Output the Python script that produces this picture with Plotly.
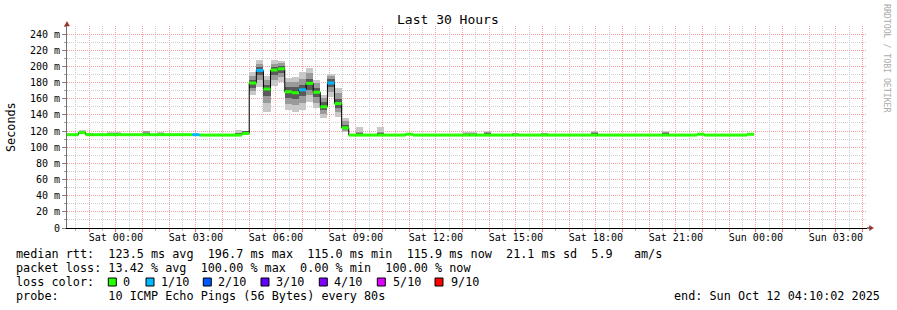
import numpy as np
import pandas as pd
import plotly.graph_objects as go

# ---------------- data ----------------
title_text = "Last 30 Hours"
y_title = "Seconds"
x_start = "2025-10-10 22:10:02"
x_end = "2025-10-12 04:10:02"
first_step = "2025-10-10 22:04:00"
step_minutes = 16

# median RTT per 16-minute step (ms)
median_ms = [
    115.5, 115.5, 118, 115.5, 115.5, 115.5, 115.5, 115.5, 115.5, 115.5,
    115.5, 115.5, 115.5, 115.5, 115.5, 115.5, 115.5, 115.5, 115.5, 115,
    115, 115, 115, 115, 115, 117, 179.4, 195, 172, 195.5,
    197, 168.6, 167.4, 171, 179, 168, 150, 179.4, 154, 124,
    115, 115, 115, 115, 115, 115, 115, 115, 116, 115,
    115, 115, 115, 115, 115, 115, 115, 115, 115, 115,
    115, 115, 115, 115, 115, 115, 115, 115, 115, 115,
    115, 115, 115, 115, 115, 115, 115, 115, 115, 115,
    115, 115, 115, 115, 115, 115, 115, 115, 115, 116,
    115, 115, 115, 115, 115, 115, 116,
]
# steps with packet loss (in tenths)
loss_idx = [18, 27, 33, 37]
loss_tenths = [1, 1, 1, 1]

# smoke (ping spread) for steps where it is visible
smoke_idx = [2, 3, 6, 7, 11, 13, 24, 25, 26, 27, 28, 29, 30, 31, 32, 33, 34, 35, 36, 37, 38, 39,
             41, 44, 56, 57, 59, 63, 67, 74, 84]
smoke_hi1 = [121, 118, 118.5, 118.5, 120, 118.5, 121, 120.5, 193, 208, 188, 208, 207, 186, 187, 193, 198, 183, 165, 191, 173, 136.5,
             124.5, 124.5, 118.5, 118.5, 119.5, 118, 118, 119.5, 119.5]
smoke_hi2 = [120, 117, 117, 117, 119.5, 117, 118, 120, 188, 203, 183, 203, 204, 181, 181, 185, 192, 179, 161, 188, 167, 132,
             119, 119, 117, 117, 118.5, 117, 117, 118.5, 118.5]
smoke_hi3 = [119, 116.5, 116.5, 116.5, 118, 116.5, 117, 119.5, 183, 199, 177, 199, 200, 175, 174, 177, 185, 173, 156, 184, 160, 128,
             117, 117, 116.5, 116.5, 117, 116.5, 116.5, 117, 117]
smoke_lo3 = [117.5, 115, 115, 115, 115, 115, 114.5, 116.5, 173, 189, 163, 189, 192, 161, 160, 163, 171, 162, 146, 174, 148, 122,
             114.5, 114.5, 114.5, 114.5, 114.5, 114.5, 114.5, 114.5, 114.5]
smoke_lo2 = [117, 114.5, 114.5, 114.5, 114.5, 114.5, 114, 116, 169, 183, 155, 183, 187, 154, 152, 155, 164, 155, 141, 168, 143, 120.5,
             114, 114, 114, 114, 114, 114, 114, 114, 114]
smoke_lo1 = [116.5, 114, 114, 114, 114, 114, 113.5, 115.5, 165, 175, 143, 176, 181, 146, 144, 146, 156, 148, 136, 162, 138, 119,
             113.5, 113.5, 113.5, 113.5, 113.5, 113.5, 113.5, 113.5, 113.5]

loss_labels = ["0", "1/10", "2/10", "3/10", "4/10", "5/10", "9/10"]
loss_colors = ["#26ff00", "#00b8ff", "#0059ff", "#5e00ff", "#7e00ff", "#dd00ff", "#ff0000"]
loss_class_tenths = [0, 1, 2, 3, 4, 5, 9]

y_tick_vals = [0, 20, 40, 60, 80, 100, 120, 140, 160, 180, 200, 220, 240]
y_minor_vals = [10, 30, 50, 70, 90, 110, 130, 150, 170, 190, 210, 230, 250]

legend_rtt = "median rtt:  123.5 ms avg  196.7 ms max  115.0 ms min  115.9 ms now  21.1 ms sd  5.9   am/s"
legend_loss = "packet loss: 13.42 % avg  100.00 % max  0.00 % min  100.00 % now"
legend_color_label = "loss color:"
legend_probe = "probe:       10 ICMP Echo Pings (56 Bytes) every 80s"
legend_end = "end: Sun Oct 12 04:10:02 2025"
watermark = "RRDTOOL / TOBI OETIKER"

# ---------------- geometry helpers ----------------
W, H = 897, 310
ML, MR, MT, MB = 67, 30, 26, 82
PW, PH = W - ML - MR, H - MT - MB


def px(x):
    return (x - ML) / PW


def py(y):
    return (H - MB - y) / PH


def nb(s):
    return s.replace(" ", "\u00a0")


FONT = "DejaVu Sans Mono"

n = len(median_ms)
starts = pd.date_range(first_step, periods=n, freq=f"{step_minutes}min")
step = pd.Timedelta(minutes=step_minutes)
ends = starts + step
loss = [0] * n
for i, l in zip(loss_idx, loss_tenths):
    loss[i] = l

fig = go.Figure()

# smoke bands
w_ms = step_minutes * 60 * 1000
centers = [(starts[i] + step / 2).to_pydatetime() for i in smoke_idx]
bands = [
    (smoke_lo1, smoke_hi1, "#c8c8c8"),
    (smoke_lo2, smoke_hi2, "#9a9a9a"),
    (smoke_lo3, smoke_hi3, "#5a5a5a"),
]
for lo, hi, col in bands:
    fig.add_trace(go.Bar(
        x=centers, y=[h - l for h, l in zip(hi, lo)], base=lo,
        width=[w_ms] * len(centers), marker=dict(color=col, line=dict(width=0)),
        hoverinfo="skip", showlegend=False))

# thin black median step line
fig.add_trace(go.Scatter(
    x=[t.to_pydatetime() for t in starts] + [ends[-1].to_pydatetime()],
    y=median_ms + [median_ms[-1]], mode="lines", line_shape="hv",
    line=dict(color="#000000", width=1), hoverinfo="skip", showlegend=False))

# loss coloured median boxes
for cls, col in zip(loss_class_tenths, loss_colors):
    xs, ys = [], []
    for i in range(n):
        if loss[i] == cls:
            xs += [starts[i].to_pydatetime(), ends[i].to_pydatetime(), None]
            ys += [median_ms[i], median_ms[i], None]
    if xs:
        fig.add_trace(go.Scatter(x=xs, y=ys, mode="lines", connectgaps=False,
                                 line=dict(color=col, width=3), hoverinfo="skip", showlegend=False))

# ticks
hour_ticks = pd.date_range("2025-10-10 23:00", "2025-10-12 04:00", freq="1h")
half_ticks = pd.date_range("2025-10-10 22:30", "2025-10-12 03:30", freq="1h")
hour_text = [t.strftime("%a %H:%M") if t.hour % 3 == 0 else "" for t in hour_ticks]
y_tick_text = [f"{v} m" if v else "0" for v in y_tick_vals]

RED_GRID = "#f7a0a0"
GRAY_GRID = "#cfcfcf"

fig.update_layout(
    width=W, height=H, autosize=False,
    margin=dict(l=ML, r=MR, t=MT, b=MB, pad=0),
    paper_bgcolor="white", plot_bgcolor="white",
    showlegend=False, barmode="overlay", bargap=0,
    font=dict(family=FONT, color="black"),
    xaxis=dict(
        type="date", range=[x_start, x_end],
        tickmode="array", tickvals=[t.to_pydatetime() for t in hour_ticks], ticktext=hour_text,
        showgrid=True, gridcolor=RED_GRID, griddash="1px,1px", gridwidth=1,
        ticks="outside", ticklen=3, tickcolor="#ff6060", tickwidth=1,
        ticklabelstandoff=-3,
        minor=dict(tickmode="array", tickvals=[t.to_pydatetime() for t in half_ticks], showgrid=True,
                   gridcolor=GRAY_GRID, griddash="1px,1px", ticks="outside", ticklen=2,
                   tickcolor="#b0b0b0"),
        showline=True, linecolor="#000000", linewidth=1, zeroline=False,
        tickfont=dict(family=FONT, size=10, color="black"), fixedrange=True,
    ),
    yaxis=dict(
        range=[0, 250], tickmode="array", tickvals=y_tick_vals, ticktext=y_tick_text,
        showgrid=True, gridcolor=RED_GRID, griddash="1px,1px", gridwidth=1,
        ticks="outside", ticklen=4, tickcolor="#808080",
        minor=dict(tickmode="array", tickvals=y_minor_vals, showgrid=True, gridcolor=GRAY_GRID,
                   griddash="1px,1px", ticks="outside", ticklen=2, tickcolor="#a0a0a0"),
        showline=True, linecolor="#707070", linewidth=1, zeroline=False,
        tickfont=dict(family=FONT, size=10, color="black"), fixedrange=True,
    ),
)

ann = []
ann.append(dict(x=px(448), y=py(20), text=nb(title_text), font=dict(family=FONT, size=13)))
ann.append(dict(x=px(11), y=py(127), text=y_title, textangle=-90, font=dict(family=FONT, size=11.8)))
ann.append(dict(x=px(887), y=py(59), text=nb(watermark), textangle=90,
                font=dict(family=FONT, size=8.2, color="#aaaaaa")))
row_y = [254, 268, 282, 296]
LEG = 11.8
ann.append(dict(x=px(14), y=py(row_y[0]), text=nb(legend_rtt), xanchor="left", font=dict(family=FONT, size=LEG)))
ann.append(dict(x=px(14), y=py(row_y[1]), text=nb(legend_loss), xanchor="left", font=dict(family=FONT, size=LEG)))
ann.append(dict(x=px(14), y=py(row_y[2]), text=nb(legend_color_label), xanchor="left", font=dict(family=FONT, size=LEG)))
ann.append(dict(x=px(14), y=py(row_y[3]), text=nb(legend_probe), xanchor="left", font=dict(family=FONT, size=LEG)))
ann.append(dict(x=px(882), y=py(row_y[3]), text=nb(legend_end), xanchor="right", font=dict(family=FONT, size=LEG)))

box_x = [108.3, 146, 203.3, 261, 319.3, 377.3, 435]
label_x = [122.7, 160.7, 218.3, 276, 334.3, 392.7, 450.5]
shapes = []
for bx, lx, lab, col in zip(box_x, label_x, loss_labels, loss_colors):
    shapes.append(dict(type="rect", xref="paper", yref="paper",
                       x0=px(bx), x1=px(bx + 8), y0=py(row_y[2] - 4), y1=py(row_y[2] + 4),
                       fillcolor=col, line=dict(color="#000000", width=1), layer="above"))
    ann.append(dict(x=px(lx - 2), y=py(row_y[2]), text=nb(lab), xanchor="left", font=dict(family=FONT, size=LEG)))

for a in ann:
    a.setdefault("xref", "paper")
    a.setdefault("yref", "paper")
    a.setdefault("showarrow", False)
    a.setdefault("xanchor", "center")
    a.setdefault("yanchor", "middle")

ARROW = "#a03030"
# arrow on top of y axis
shapes.append(dict(type="path", xref="paper", yref="paper", xsizemode="pixel", ysizemode="pixel",
                   xanchor=0, yanchor=1, path="M-2.5,0 L2.5,0 L0,4.5 Z",
                   fillcolor=ARROW, line=dict(color=ARROW, width=0.5), layer="above"))
# arrow at right end of x axis
shapes.append(dict(type="path", xref="paper", yref="paper", xsizemode="pixel", ysizemode="pixel",
                   xanchor=1, yanchor=0, path="M0,0 L3,0",
                   line=dict(color="#000000", width=1), layer="above"))
shapes.append(dict(type="path", xref="paper", yref="paper", xsizemode="pixel", ysizemode="pixel",
                   xanchor=1, yanchor=0, path="M2.5,-2.5 L2.5,2.5 L6.5,0 Z",
                   fillcolor=ARROW, line=dict(color=ARROW, width=0.5), layer="above"))

fig.update_layout(annotations=ann, shapes=shapes)
fig.write_html("out.html")
